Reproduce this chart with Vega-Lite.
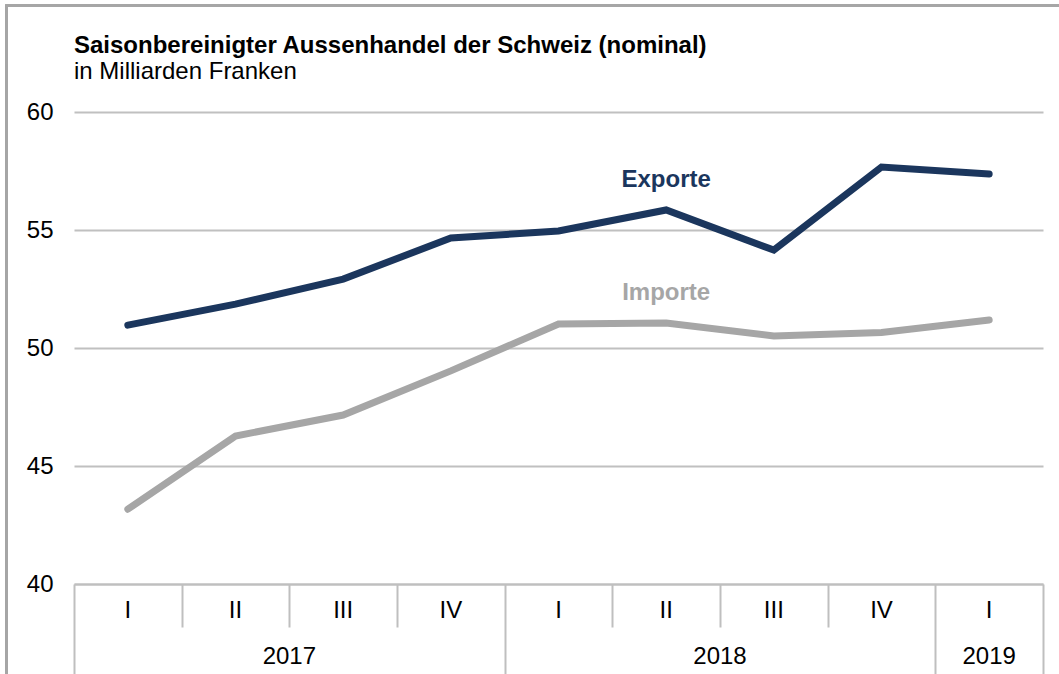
{
  "$schema": "https://vega.github.io/schema/vega-lite/v6.json",
  "width": 969,
  "height": 472,
  "autosize": {"type": "none"},
  "padding": {"left": 74, "top": 112, "right": 16, "bottom": 90},
  "background": "white",
  "config": {"view": {"stroke": null}, "font": "Liberation Sans"},
  "title": {
    "text": "Saisonbereinigter Aussenhandel der Schweiz (nominal)",
    "subtitle": "in Milliarden Franken",
    "anchor": "start",
    "frame": "group",
    "offset": -79,
    "font": "Liberation Sans",
    "fontSize": 24,
    "fontWeight": "bold",
    "color": "#000000",
    "subtitleFont": "Liberation Sans",
    "subtitleFontSize": 24,
    "subtitleColor": "#000000",
    "subtitlePadding": 2
  },
  "datasets": {
    "trade": [
      {"n": 1, "period": "2017 I", "series": "Exporte", "value": 50.97},
      {"n": 2, "period": "2017 II", "series": "Exporte", "value": 51.86},
      {"n": 3, "period": "2017 III", "series": "Exporte", "value": 52.92},
      {"n": 4, "period": "2017 IV", "series": "Exporte", "value": 54.66},
      {"n": 5, "period": "2018 I", "series": "Exporte", "value": 54.96},
      {"n": 6, "period": "2018 II", "series": "Exporte", "value": 55.85},
      {"n": 7, "period": "2018 III", "series": "Exporte", "value": 54.15},
      {"n": 8, "period": "2018 IV", "series": "Exporte", "value": 57.67},
      {"n": 9, "period": "2019 I", "series": "Exporte", "value": 57.37},
      {"n": 1, "period": "2017 I", "series": "Importe", "value": 43.17},
      {"n": 2, "period": "2017 II", "series": "Importe", "value": 46.27},
      {"n": 3, "period": "2017 III", "series": "Importe", "value": 47.16},
      {"n": 4, "period": "2017 IV", "series": "Importe", "value": 49.03},
      {"n": 5, "period": "2018 I", "series": "Importe", "value": 51.02},
      {"n": 6, "period": "2018 II", "series": "Importe", "value": 51.06},
      {"n": 7, "period": "2018 III", "series": "Importe", "value": 50.51},
      {"n": 8, "period": "2018 IV", "series": "Importe", "value": 50.66},
      {"n": 9, "period": "2019 I", "series": "Importe", "value": 51.19}
    ],
    "quarters": [
      {"n": 1, "year": "2017", "quarter": "I"},
      {"n": 2, "year": "2017", "quarter": "II"},
      {"n": 3, "year": "2017", "quarter": "III"},
      {"n": 4, "year": "2017", "quarter": "IV"},
      {"n": 5, "year": "2018", "quarter": "I"},
      {"n": 6, "year": "2018", "quarter": "II"},
      {"n": 7, "year": "2018", "quarter": "III"},
      {"n": 8, "year": "2018", "quarter": "IV"},
      {"n": 9, "year": "2019", "quarter": "I"}
    ]
  },
  "layer": [
    {
      "data": {"name": "quarters"},
      "mark": {"type": "rect", "fill": null, "stroke": "#a6a6a6", "strokeWidth": 2},
      "encoding": {
        "x": {"datum": -0.127, "type": "quantitative", "scale": {"domain": [0.5, 9.5], "nice": false, "zero": false}},
        "x2": {"datum": 11},
        "y": {"datum": 64.51, "type": "quantitative", "scale": {"domain": [40, 60], "nice": false, "zero": false}},
        "y2": {"datum": 30}
      }
    },
    {
      "data": {"name": "trade"},
      "mark": {"type": "line", "strokeWidth": 7, "strokeCap": "round", "strokeJoin": "miter"},
      "encoding": {
        "x": {
          "field": "n",
          "type": "quantitative",
          "scale": {"domain": [0.5, 9.5], "nice": false, "zero": false},
          "axis": {
            "title": null,
            "values": [0.5, 1.5, 2.5, 3.5, 4.5, 5.5, 6.5, 7.5, 8.5, 9.5],
            "labels": false,
            "grid": false,
            "domainColor": "#bfbfbf",
            "domainWidth": 2,
            "tickColor": "#bfbfbf",
            "tickWidth": 2,
            "tickSize": {"condition": {"test": "indexof([0.5, 4.5, 8.5, 9.5], datum.value) >= 0", "value": 130}, "value": 43}
          }
        },
        "y": {
          "field": "value",
          "type": "quantitative",
          "scale": {"domain": [40, 60], "nice": false, "zero": false},
          "axis": {
            "title": null,
            "values": [40, 45, 50, 55, 60],
            "grid": true,
            "gridColor": "#c0c0c0",
            "gridWidth": 2,
            "domain": false,
            "ticks": false,
            "labelFontSize": 24,
            "labelColor": "#000000",
            "labelPadding": 21
          }
        },
        "color": {
          "field": "series",
          "type": "nominal",
          "scale": {"domain": ["Exporte", "Importe"], "range": ["#1b365d", "#a6a6a6"]},
          "legend": null
        }
      }
    },
    {
      "data": {"name": "trade"},
      "transform": [{"filter": "datum.n == 6"}],
      "mark": {"type": "text", "fontSize": 24, "fontWeight": "bold", "baseline": "middle", "align": "center", "dy": -30},
      "encoding": {
        "x": {"field": "n", "type": "quantitative"},
        "y": {"field": "value", "type": "quantitative"},
        "text": {"field": "series"},
        "color": {"field": "series", "type": "nominal", "legend": null}
      }
    },
    {
      "data": {"name": "quarters"},
      "mark": {"type": "text", "fontSize": 24, "baseline": "middle", "align": "center", "color": "#000000"},
      "encoding": {
        "x": {"field": "n", "type": "quantitative"},
        "y": {"datum": 38.86},
        "text": {"field": "quarter"}
      }
    },
    {
      "data": {"name": "quarters"},
      "mark": {"type": "text", "fontSize": 24, "baseline": "middle", "align": "center", "color": "#000000"},
      "encoding": {
        "x": {"aggregate": "mean", "field": "n", "type": "quantitative"},
        "y": {"datum": 36.9},
        "text": {"field": "year"}
      }
    }
  ]
}
